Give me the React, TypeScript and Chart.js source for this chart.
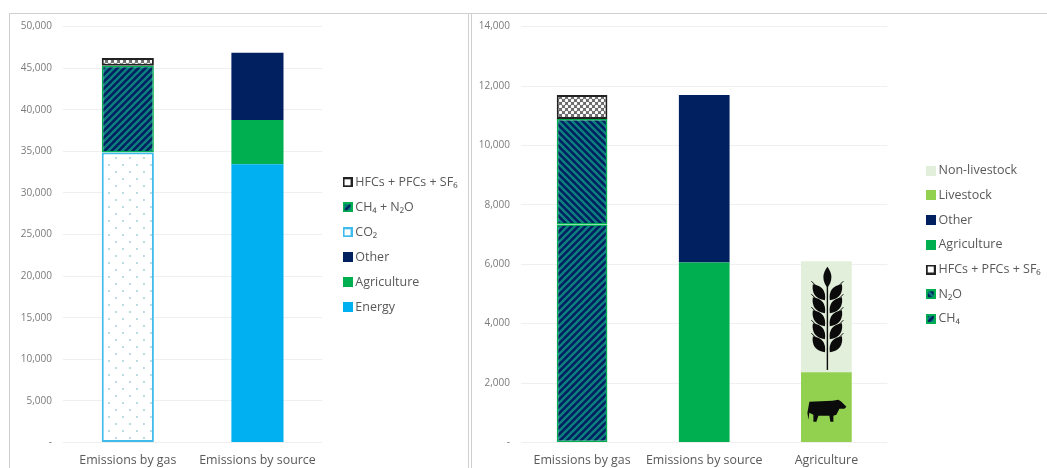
import React, { useEffect, useRef } from "react";
import { Chart, registerables } from "chart.js";

Chart.register(...registerables);

const FONT = "'Open Sans', 'Noto Sans', sans-serif";
const TEXT = "#595959";

const leftCategories = ["Emissions by gas", "Emissions by source"];
const leftCO2 = [34850, 0];
const leftCH4N2O = [10450, 0];
const leftHFC = [930, 0];
const leftEnergy = [0, 33450];
const leftAgriculture = [0, 5320];
const leftOther = [0, 8100];
const leftTicks = [0, 5000, 10000, 15000, 20000, 25000, 30000, 35000, 40000, 45000, 50000];

const rightCategories = ["Emissions by gas", "Emissions by source", "Agriculture"];
const rightCH4 = [7340, 0, 0];
const rightN2O = [3550, 0, 0];
const rightHFC = [810, 0, 0];
const rightAgriculture = [0, 6060, 0];
const rightOther = [0, 5640, 0];
const rightLivestock = [0, 0, 2366];
const rightNonLivestock = [0, 0, 3734];
const rightTicks = [0, 2000, 4000, 6000, 8000, 10000, 12000, 14000];

function tile(size: number, draw: (c: CanvasRenderingContext2D) => void): CanvasPattern {
  const cv = document.createElement("canvas");
  cv.width = size;
  cv.height = size;
  const c = cv.getContext("2d")!;
  draw(c);
  return c.createPattern(cv, "repeat")!;
}

function stripes(forward: boolean): CanvasPattern {
  const s = 7;
  return tile(s, (c) => {
    c.fillStyle = "#002060";
    c.fillRect(0, 0, s, s);
    c.strokeStyle = "#0d8080";
    c.lineWidth = 2.3;
    const segs = forward
      ? [[-1, 1, 1, -1], [-1, s + 1, s + 1, -1], [s - 1, s + 1, s + 1, s - 1]]
      : [[-1, s - 1, 1, s + 1], [-1, -1, s + 1, s + 1], [s - 1, -1, s + 1, 1]];
    for (const [a, b, d, e] of segs) {
      c.beginPath();
      c.moveTo(a, b);
      c.lineTo(d, e);
      c.stroke();
    }
  });
}

function dots(): CanvasPattern {
  return tile(14, (c) => {
    c.fillStyle = "#ffffff";
    c.fillRect(0, 0, 14, 14);
    c.fillStyle = "#bcdbe2";
    c.fillRect(3, 3, 2, 2);
    c.fillRect(10, 10, 2, 2);
  });
}

function lattice(): CanvasPattern {
  return tile(6, (c) => {
    c.fillStyle = "#6a6a6a";
    c.fillRect(0, 0, 6, 6);
    c.fillStyle = "#ffffff";
    c.beginPath();
    c.arc(1.5, 1.5, 1.7, 0, Math.PI * 2);
    c.arc(4.5, 4.5, 1.7, 0, Math.PI * 2);
    c.fill();
  });
}

function swatch(fill: string | CanvasPattern, edge: string): HTMLCanvasElement {
  const cv = document.createElement("canvas");
  cv.width = 10;
  cv.height = 10;
  const c = cv.getContext("2d")!;
  c.fillStyle = fill as any;
  c.fillRect(0, 0, 10, 10);
  if (edge !== "") {
    c.strokeStyle = edge;
    c.lineWidth = 2;
    c.strokeRect(1, 1, 8, 8);
  }
  return cv;
}

function drawWheat(c: CanvasRenderingContext2D, x: number, top: number, bottom: number) {
  c.save();
  c.fillStyle = "#0b0b0b";
  c.strokeStyle = "#0b0b0b";
  c.lineWidth = 1.4;
  c.beginPath();
  c.moveTo(x, top + 6);
  c.lineTo(x, bottom);
  c.stroke();
  const grain = (gx: number, gy: number, len: number, wid: number, ang: number) => {
    c.save();
    c.translate(gx, gy);
    c.rotate(ang);
    c.beginPath();
    c.moveTo(0, -len / 2);
    c.quadraticCurveTo(wid, 0, 0, len / 2);
    c.quadraticCurveTo(-wid, 0, 0, -len / 2);
    c.fill();
    c.restore();
  };
  grain(x, top + 10, 21, 8, 0);
  for (let i = 0; i < 5; i++) {
    const gy = top + 25 + i * 13;
    grain(x - 8.5, gy, 20, 10, -0.65);
    grain(x + 8.5, gy, 20, 10, 0.65);
    c.lineWidth = 1;
    c.beginPath();
    c.moveTo(x - 16, gy - 11);
    c.lineTo(x - 12, gy - 7);
    c.moveTo(x + 16, gy - 11);
    c.lineTo(x + 12, gy - 7);
    c.stroke();
  }
  c.restore();
}

function drawCow(c: CanvasRenderingContext2D, x: number, y: number) {
  c.save();
  c.fillStyle = "#0b0b0b";
  c.beginPath();
  c.moveTo(x - 18, y - 10);
  c.lineTo(x + 5, y - 11);
  c.lineTo(x + 11, y - 12);
  c.lineTo(x + 14, y - 10);
  c.lineTo(x + 19, y - 5);
  c.lineTo(x + 17, y - 3);
  c.lineTo(x + 12, y - 3);
  c.lineTo(x + 9, y + 3);
  c.lineTo(x + 6, y + 4);
  c.lineTo(x + 6, y + 10);
  c.lineTo(x + 3, y + 10);
  c.lineTo(x + 2, y + 4);
  c.lineTo(x - 9, y + 4);
  c.lineTo(x - 11, y + 10);
  c.lineTo(x - 14, y + 10);
  c.lineTo(x - 14, y + 3);
  c.lineTo(x - 18, y + 1);
  c.lineTo(x - 19, y + 8);
  c.lineTo(x - 20, y + 1);
  c.closePath();
  c.fill();
  c.restore();
}

const iconPlugin = {
  id: "icons",
  afterDatasetsDraw(chart: any) {
    if (chart.canvas.dataset.icons !== "yes") return;
    const x = chart.scales.x.getPixelForValue(2) + 1;
    const y = chart.scales.y;
    drawWheat(chart.ctx, x, y.getPixelForValue(5900), y.getPixelForValue(2440));
    drawCow(chart.ctx, x, y.getPixelForValue(1030));
  },
};

const shiftLegend = {
  id: "shiftLegend",
  afterLayout(chart: any) {
    const n = Number(chart.canvas.dataset.shift || 0);
    chart.legend.left += n;
    chart.legend.right += n;
    chart.legend.top -= 2.5;
    chart.legend.bottom -= 2.5;
  },
};

function makeChart(
  canvas: HTMLCanvasElement,
  labels: string[],
  datasets: any[],
  swatches: HTMLCanvasElement[],
  ticks: number[],
  max: number,
  yWidth: number,
  padRight: number,
  barPct: number,
  rowGap: number
) {
  return new Chart(canvas, {
    type: "bar",
    data: { labels, datasets },
    plugins: [iconPlugin, shiftLegend],
    options: {
      animation: false,
      responsive: false,
      maintainAspectRatio: false,
      layout: { padding: { top: 26.6, bottom: 0, left: 0, right: padRight } },
      datasets: { bar: { barPercentage: barPct, categoryPercentage: 1 } },
      scales: {
        x: {
          stacked: true,
          grid: { display: false },
          border: { display: false },
          afterFit: (s: any) => {
            s.height = 25.6;
          },
          ticks: {
            color: TEXT,
            padding: 3,
            maxRotation: 0,
            autoSkip: false,
            font: { family: FONT, size: 12.4 },
          },
        },
        y: {
          stacked: true,
          min: 0,
          max,
          afterFit: (s: any) => {
            s.width = yWidth;
          },
          afterBuildTicks: (s: any) => {
            s.ticks = ticks.map((value) => ({ value }));
          },
          grid: { color: "#efefef", drawTicks: false, lineWidth: 1 },
          border: { display: false },
          ticks: {
            color: "#7a7a7a",
            padding: 11,
            font: { family: FONT, size: 10 },
            callback: (v: any) => (Number(v) === 0 ? "-" : Number(v).toLocaleString("en-US")),
          },
        },
      },
      plugins: {
        title: { display: false },
        tooltip: { enabled: false },
        legend: {
          display: true,
          position: "right",
          align: "center",
          reverse: true,
          maxWidth: 220,
          labels: {
            color: TEXT,
            usePointStyle: true,
            boxWidth: 3,
            boxHeight: 10,
            padding: rowGap,
            font: { family: FONT, size: 12.5 },
            generateLabels: (chart: any) =>
              Chart.defaults.plugins.legend.labels
                .generateLabels(chart)
                .map((item: any) => ({ ...item, pointStyle: swatches[item.datasetIndex] })),
          },
        },
      },
    },
  } as any);
}

const bar = (label: string, data: number[], backgroundColor: any, borderColor?: string, borderWidth = 2) => ({
  label,
  data,
  backgroundColor,
  borderColor: borderColor ?? backgroundColor,
  borderWidth: borderColor ? borderWidth : 0,
  borderSkipped: false,
});

export default function App() {
  const leftRef = useRef<HTMLCanvasElement>(null);
  const rightRef = useRef<HTMLCanvasElement>(null);

  useEffect(() => {
    document.body.style.margin = "0";
    const left = makeChart(
      leftRef.current!,
      leftCategories,
      [
        bar("Energy", leftEnergy, "#00B0F0"),
        bar("Agriculture", leftAgriculture, "#00B050"),
        bar("Other", leftOther, "#002060"),
        bar("CO₂", leftCO2, dots(), "#3fbcec"),
        bar("CH₄ + N₂O", leftCH4N2O, stripes(true), "#00B050", 1.5),
        bar("HFCs + PFCs + SF₆", leftHFC, lattice(), "#222222"),
      ],
      [
        swatch("#00B0F0", ""),
        swatch("#00B050", ""),
        swatch("#002060", ""),
        swatch("#ffffff", "#3fbcec"),
        swatch(stripes(true), "#00B050"),
        swatch("#ffffff", "#222222"),
      ],
      leftTicks,
      50000,
      63,
      8.75,
      0.402,
      12.5
    );
    const right = makeChart(
      rightRef.current!,
      rightCategories,
      [
        bar("CH₄", rightCH4, stripes(true), "#00B050", 1.5),
        bar("N₂O", rightN2O, stripes(false), "#00B050", 1.5),
        bar("HFCs + PFCs + SF₆", rightHFC, lattice(), "#222222"),
        bar("Agriculture", rightAgriculture, "#00B050"),
        bar("Other", rightOther, "#002060"),
        bar("Livestock", rightLivestock, "#92D050"),
        bar("Non-livestock", rightNonLivestock, "#E2EFDA"),
      ],
      [
        swatch(stripes(true), "#00B050"),
        swatch(stripes(false), "#00B050"),
        swatch("#ffffff", "#222222"),
        swatch("#00B050", ""),
        swatch("#002060", ""),
        swatch("#92D050", ""),
        swatch("#E2EFDA", ""),
      ],
      rightTicks,
      14000,
      49,
      25.85,
      0.415,
      12.2
    );
    return () => {
      left.destroy();
      right.destroy();
    };
  }, []);

  const line = (s: React.CSSProperties): React.CSSProperties => ({
    position: "absolute",
    background: "#d0d0d0",
    ...s,
  });

  return (
    <div style={{ position: "absolute", left: 0, top: 0, width: 1047, height: 468, overflow: "hidden", background: "#fff", filter: "blur(0.4px)" }}>
      <canvas ref={leftRef} width={465} height={468} data-shift="11.25" style={{ position: "absolute", left: 0, top: 0 }} />
      <canvas ref={rightRef} width={575} height={468} data-icons="yes" data-shift="29.55" style={{ position: "absolute", left: 472, top: 0 }} />
      <div style={line({ left: 9, top: 13, width: 1, height: 455 })} />
      <div style={line({ left: 9, top: 13, width: 1038, height: 1 })} />
      <div style={line({ left: 468, top: 13, width: 1, height: 455 })} />
      <div style={line({ left: 471, top: 13, width: 1, height: 455 })} />
    </div>
  );
}
